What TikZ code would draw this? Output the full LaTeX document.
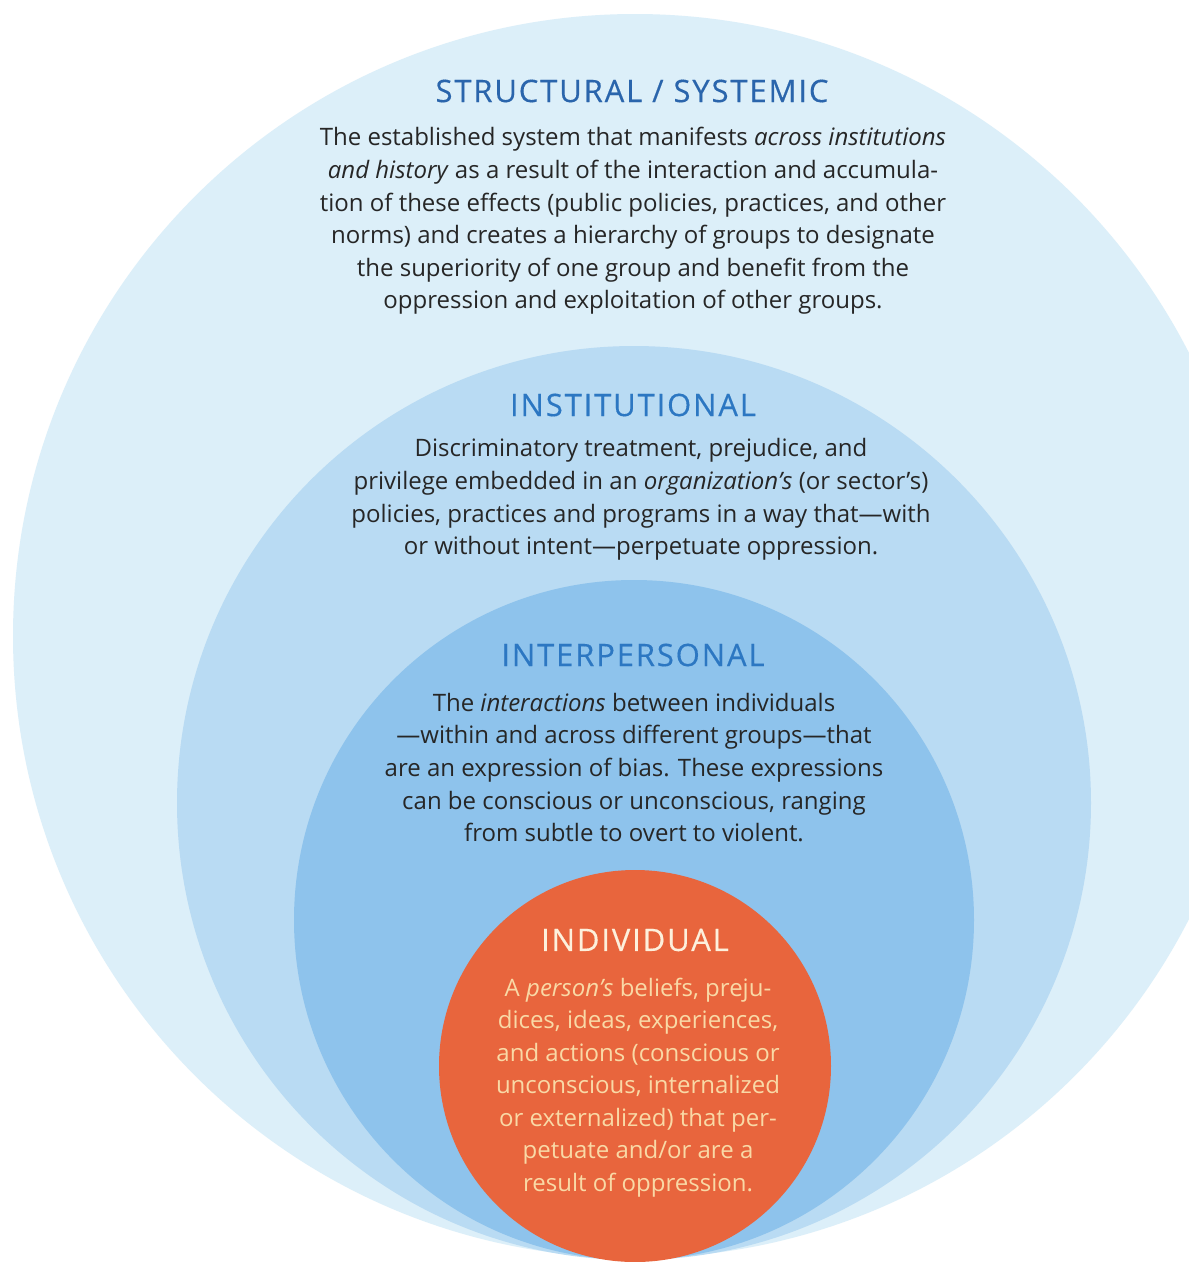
\documentclass[tikz,border=0pt]{standalone}
\usepackage{fontspec}
\setmainfont{Open Sans}
\newfontfamily\headfont[LetterSpace=6,FakeBold=0.35]{Open Sans}
\definecolor{ringouter}{HTML}{DCEFF9}
\definecolor{ringinst}{HTML}{B9DBF3}
\definecolor{ringinter}{HTML}{8EC3EC}
\definecolor{coreorange}{HTML}{E8653D}
\definecolor{headblue}{HTML}{2A65AC}
\definecolor{headblueB}{HTML}{2C77C2}
\definecolor{bodyink}{HTML}{262626}
\definecolor{corehead}{HTML}{FDF0DC}
\definecolor{corebody}{HTML}{F9D9A6}
\begin{document}
\begin{tikzpicture}[x=1pt,y=-1pt,
  ring/.style={circle, inner sep=0pt, draw=none},
  heading/.style={font=\headfont\fontsize{31}{34}\selectfont, anchor=center},
  bodytext/.style={align=center, font=\fontsize{24}{32.6}\selectfont,
                   text=bodyink, anchor=center},
  corebodytext/.style={align=center, font=\fontsize{24}{32.5}\selectfont,
                   text=corebody, anchor=center}]
  % page frame
  \fill[white] (0,0) rectangle (1189,1262);
  \useasboundingbox (0,0) rectangle (1189,1262);
  \clip (0,0) rectangle (1189,1262);

  % nested rings, all resting near the bottom edge
  \node[ring, fill=ringouter,  minimum size=1244pt] (structural) at (635,636) {};
  \node[ring, fill=ringinst,   minimum size=914pt]  (institutional) at (634,803) {};
  \node[ring, fill=ringinter,  minimum size=680pt]  (interpersonal) at (634,920) {};
  \node[ring, fill=coreorange, minimum size=392pt]  (individual) at (635,1066) {};

  % structural / systemic
  \node[heading, text=headblue] (h1) at (632,91) {STRUCTURAL / SYSTEMIC};
  \node[bodytext] (b1) at (633,221) {The established system that manifests \textit{across institutions}\\
\textit{and history} as a result of the interaction and accumula-\\
tion of these effects (public policies, practices, and other\\
norms) and creates a hierarchy of groups to designate\\
the superiority of one group and benefit from the\\
oppression and exploitation of other groups.};

  % institutional
  \node[heading, text=headblueB] (h2) at (633,405) {INSTITUTIONAL};
  \node[bodytext] (b2) at (641,499.5) {Discriminatory treatment, prejudice, and\\
privilege embedded in an \textit{organization’s} (or sector’s)\\
policies, practices and programs in a way that—with\\
or without intent—perpetuate oppression.};

  % interpersonal
  \node[heading, text=headblueB] (h3) at (633,655) {INTERPERSONAL};
  \node[bodytext] (b3) at (634,767.5) {The \textit{interactions} between individuals\\
—within and across different groups—that\\
are an expression of bias. These expressions\\
can be conscious or unconscious, ranging\\
from subtle to overt to violent.};

  % individual
  \node[heading, text=corehead] (h4) at (635,940) {INDIVIDUAL};
  \node[corebodytext] (b4) at (638,1087.5) {A \textit{person’s} beliefs, preju-\\
dices, ideas, experiences,\\
and actions (conscious or\\
unconscious, internalized\\
or externalized) that per-\\
petuate and/or are a\\
result of oppression.};
\end{tikzpicture}
\end{document}
